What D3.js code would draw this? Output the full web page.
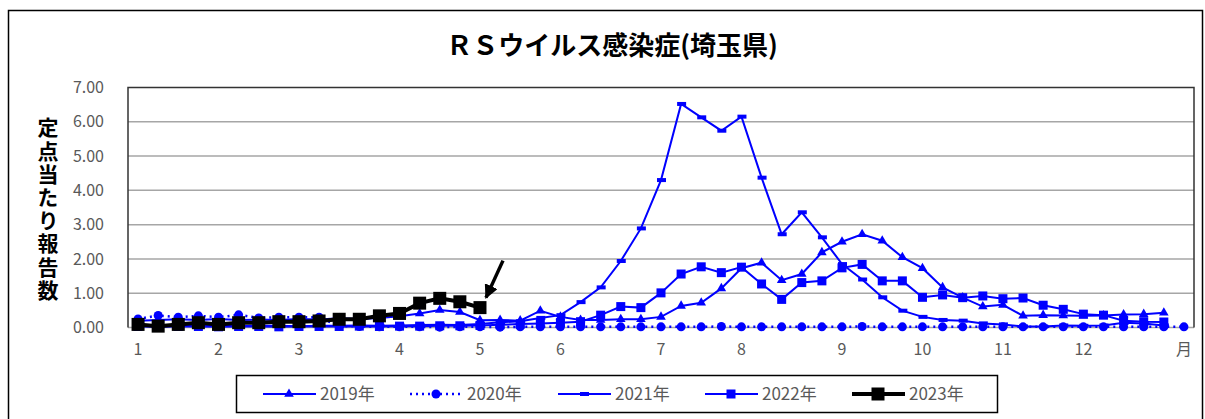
<!DOCTYPE html>
<html>
  <head>
    <meta charset="utf-8">
    <script src="https://d3js.org/d3.v7.min.js"></script>
    <style>
      body { margin: 0; background: #fff; }
      text { font-family: "Noto Sans CJK JP", "Noto Sans", sans-serif; }
      .tick text { fill: #595959; font-size: 16px; }
      .grid line { stroke: #a6a6a6; stroke-width: 1.5px; }
    </style>
  </head>
  <body>
    <script>

var width = 1205,
    height = 419;

// weeks 1..53, month labels at the first week of each month
var weeks = d3.range(53);
var monthWeeks = [0, 4, 8, 13, 17, 21, 26, 30, 35, 39, 43, 47, 52];
var monthLabels = ["1", "2", "3", "4", "5", "6", "7", "8", "9", "10", "11", "12", "月"];
var yTicks = [0, 1, 2, 3, 4, 5, 6, 7];

var v2019 = [0.20, 0.22, 0.24, 0.22, 0.25, 0.22, 0.23, 0.22, 0.25, 0.23, 0.27, 0.25, 0.28,
  0.33, 0.41, 0.51, 0.45, 0.21, 0.22, 0.20, 0.49, 0.31, 0.22, 0.22, 0.24, 0.24, 0.31,
  0.63, 0.72, 1.14, 1.73, 1.89, 1.38, 1.56, 2.19, 2.50, 2.72, 2.53, 2.05, 1.73, 1.17,
  0.87, 0.61, 0.66, 0.34, 0.36, 0.35, 0.34, 0.35, 0.38, 0.39, 0.43];
var v2020 = [0.25, 0.35, 0.30, 0.34, 0.30, 0.37, 0.28, 0.30, 0.30, 0.30, 0.04, 0.03, 0.02,
  0.02, 0.02, 0.01, 0.02, 0.02, 0.01, 0.02, 0.02, 0.02, 0.02, 0.02, 0.02, 0.02, 0.02,
  0.02, 0.02, 0.03, 0.02, 0.02, 0.02, 0.02, 0.02, 0.02, 0.03, 0.02, 0.02, 0.02, 0.02,
  0.02, 0.02, 0.02, 0.02, 0.02, 0.02, 0.02, 0.02, 0.02, 0.02, 0.02, 0.02];
var v2021 = [0.05, 0.04, 0.05, 0.04, 0.05, 0.04, 0.05, 0.05, 0.04, 0.05, 0.05, 0.06, 0.05,
  0.06, 0.07, 0.08, 0.07, 0.10, 0.15, 0.18, 0.28, 0.36, 0.74, 1.17, 1.94, 2.89, 4.30,
  6.52, 6.13, 5.74, 6.15, 4.37, 2.72, 3.36, 2.63, 1.85, 1.40, 0.88, 0.49, 0.31, 0.22,
  0.20, 0.12, 0.09, 0.03, 0.03, 0.06, 0.05, 0.06, 0.14, 0.12, 0.06];
var v2022 = [0.03, 0.02, 0.03, 0.03, 0.02, 0.03, 0.03, 0.02, 0.03, 0.03, 0.03, 0.04, 0.03,
  0.04, 0.04, 0.05, 0.05, 0.06, 0.08, 0.10, 0.12, 0.14, 0.17, 0.36, 0.61, 0.58, 1.01,
  1.56, 1.77, 1.60, 1.76, 1.27, 0.82, 1.31, 1.36, 1.74, 1.84, 1.36, 1.36, 0.88, 0.95,
  0.87, 0.92, 0.84, 0.86, 0.65, 0.53, 0.39, 0.36, 0.20, 0.17, 0.16];
var v2023 = [0.09, 0.04, 0.09, 0.14, 0.09, 0.14, 0.14, 0.17, 0.17, 0.19, 0.24, 0.24, 0.34,
  0.41, 0.71, 0.85, 0.75, 0.58];

var seriesNames = ["2019年", "2020年", "2021年", "2022年", "2023年"];
var seriesValues = [v2019, v2020, v2021, v2022, v2023];
var seriesStyle = [
  {color: "#0000ff", width: 2, dash: null, marker: "triangle"},
  {color: "#0000ff", width: 2.5, dash: "2,4", marker: "circle"},
  {color: "#0000ff", width: 2, dash: null, marker: "dash"},
  {color: "#0000ff", width: 2, dash: null, marker: "square"},
  {color: "#000000", width: 4, dash: null, marker: "bigsquare"}
];

var svg = d3.select("body").append("svg")
    .attr("width", width)
    .attr("height", height);

// outer frame
svg.append("rect")
    .attr("x", 8.5).attr("y", 10.5)
    .attr("width", 1194).attr("height", 430)
    .attr("fill", "none").attr("stroke", "#000").attr("stroke-width", 1.5);

svg.append("text")
    .attr("x", 612).attr("y", 55)
    .attr("text-anchor", "middle")
    .style("font-size", "26px").style("font-weight", "bold")
    .text("ＲＳウイルス感染症(埼玉県)");

var plotLeft = 128, plotRight = 1194, plotTop = 87.5, plotBottom = 327.5;

var x = d3.scaleBand().domain(weeks).range([plotLeft, plotRight]);
var y = d3.scaleLinear().domain([0, 7]).range([plotBottom, plotTop]);
var cx = function(i) { return x(i) + x.bandwidth() / 2; };

// gridlines
svg.append("g").attr("class", "grid")
  .selectAll("line")
  .data(yTicks.slice(1, 7))
  .enter().append("line")
    .attr("x1", plotLeft).attr("x2", plotRight)
    .attr("y1", function(d) { return y(d); })
    .attr("y2", function(d) { return y(d); });

svg.append("line")
    .attr("x1", plotLeft).attr("x2", plotRight)
    .attr("y1", plotBottom).attr("y2", plotBottom)
    .attr("stroke", "#a6a6a6").attr("stroke-width", 1.5);
// plot frame
svg.append("path")
    .attr("d", "M" + plotLeft + "," + plotBottom + "V" + plotTop + "H" + plotRight + "V" + plotBottom)
    .attr("fill", "none").attr("stroke", "#333").attr("stroke-width", 1.5);

var yAxis = svg.append("g")
    .attr("transform", "translate(" + plotLeft + ",0)")
    .call(d3.axisLeft(y).tickValues(yTicks).tickFormat(d3.format(".2f")).tickSize(0).tickPadding(24));
yAxis.select(".domain").remove();

var xAxis = svg.append("g")
    .attr("transform", "translate(0," + plotBottom + ")")
    .call(d3.axisBottom(x).tickValues(monthWeeks)
      .tickFormat(function(d, i) { return monthLabels[i]; })
      .tickSize(0).tickPadding(16));
xAxis.select(".domain").remove();

// y title, vertical
svg.append("text")
    .attr("x", 48)
    .attr("y", 117)
    .style("writing-mode", "vertical-rl")
    .style("letter-spacing", "2.2px")
    .style("font-size", "21px").style("font-weight", "bold")
    .text("定点当たり報告数");

function drawMarker(g, type, color, px, py) {
  if (type === "triangle") {
    g.append("path").attr("d", d3.symbol(d3.symbolTriangle, 40)())
      .attr("transform", "translate(" + px + "," + py + ")").attr("fill", color);
  } else if (type === "circle") {
    g.append("circle").attr("cx", px).attr("cy", py).attr("r", 4.5).attr("fill", color);
  } else if (type === "dash") {
    g.append("rect").attr("x", px - 4).attr("y", py - 2).attr("width", 9).attr("height", 4).attr("fill", color);
  } else if (type === "square") {
    g.append("rect").attr("x", px - 4.5).attr("y", py - 4.5).attr("width", 9).attr("height", 9).attr("fill", color);
  } else {
    g.append("rect").attr("x", px - 6.5).attr("y", py - 6.5).attr("width", 13).attr("height", 13).attr("fill", color);
  }
}

var line = d3.line()
    .x(function(d, i) { return cx(i); })
    .y(function(d) { return y(d); });

seriesValues.forEach(function(vals, s) {
  var st = seriesStyle[s];
  var g = svg.append("g");
  g.append("path")
      .datum(vals)
      .attr("d", line)
      .attr("fill", "none")
      .attr("stroke", st.color)
      .attr("stroke-width", st.width)
      .attr("stroke-dasharray", st.dash);
  vals.forEach(function(v, i) { drawMarker(g, st.marker, st.color, cx(i), y(v)); });
});

// arrow pointing at the latest 2023 week
svg.append("defs").append("marker")
    .attr("id", "head")
    .attr("viewBox", "0 0 10 10")
    .attr("refX", 9).attr("refY", 5)
    .attr("markerWidth", 4).attr("markerHeight", 4)
    .attr("orient", "auto")
  .append("path").attr("d", "M0,0L10,5L0,10z").attr("fill", "#000");
var last = v2023.length - 1;
svg.append("line")
    .attr("x1", cx(last) + 23).attr("y1", y(v2023[last]) - 47)
    .attr("x2", cx(last) + 6).attr("y2", y(v2023[last]) - 10)
    .attr("stroke", "#000").attr("stroke-width", 3.5)
    .attr("marker-end", "url(#head)");

// legend
var lg = svg.append("g");
lg.append("rect")
    .attr("x", 236.5).attr("y", 375.5).attr("width", 761).attr("height", 37)
    .attr("fill", "#fff").attr("stroke", "#000").attr("stroke-width", 1.5);
var legendX = [263, 410, 558, 705, 852];
seriesNames.forEach(function(name, s) {
  var st = seriesStyle[s];
  var lx = legendX[s];
  lg.append("line")
      .attr("x1", lx).attr("x2", lx + 53)
      .attr("y1", 394).attr("y2", 394)
      .attr("stroke", st.color).attr("stroke-width", st.width)
      .attr("stroke-dasharray", st.dash);
  drawMarker(lg, st.marker, st.color, lx + 26, 394);
  lg.append("text")
      .attr("x", lx + 57).attr("y", 400)
      .attr("fill", "#595959")
      .style("font-size", "17px")
      .text(name);
});

    </script>
  </body>
</html>
